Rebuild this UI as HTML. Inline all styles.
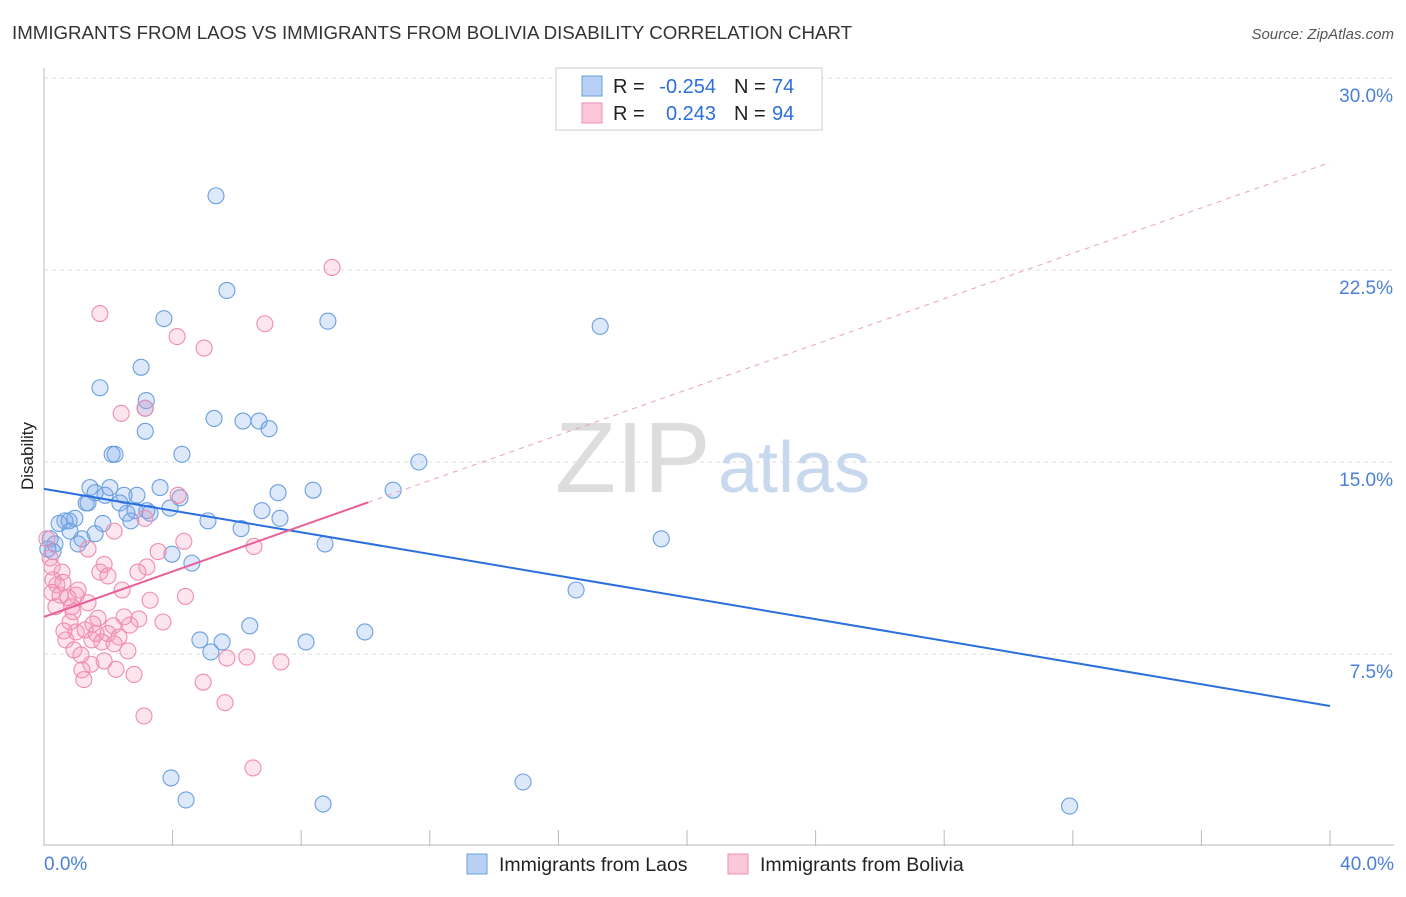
<!DOCTYPE html>
<html><head><meta charset="utf-8"><style>
body{margin:0;background:#fff;font-family:"Liberation Sans",sans-serif;}
svg text{font-family:"Liberation Sans",sans-serif;}
</style></head><body>
<svg id="chart" width="1406" height="892">
<text x="12" y="39" font-size="18.7" fill="#333">IMMIGRANTS FROM LAOS VS IMMIGRANTS FROM BOLIVIA DISABILITY CORRELATION CHART</text>
<text x="1394" y="39" font-size="15" fill="#555" font-style="italic" text-anchor="end">Source: ZipAtlas.com</text>
<text x="33" y="456" font-size="17" fill="#222" text-anchor="middle" transform="rotate(-90 33 456)">Disability</text>
<g id="grid"></g>
<text x="555" y="492" font-size="100" fill="#ddd" font-family="Liberation Serif">ZIP</text>
<text x="718" y="492" font-size="72" fill="#c8d8ee">atlas</text>
<g id="pts"></g>
<g id="lines"></g>
<g>
<rect x="556" y="68" width="266" height="62" fill="#fff" stroke="#ccc"/>
<rect x="582" y="76" width="20" height="20" fill="#b8d0f4" stroke="#6a9fe0"/>
<rect x="582" y="103" width="20" height="20" fill="#fbc8d8" stroke="#f08cb0"/>
<text x="613" y="93" font-size="20" fill="#222">R =</text>
<text x="716" y="93" font-size="20" fill="#2a6fdb" text-anchor="end">-0.254</text>
<text x="734" y="93" font-size="20" fill="#222">N =</text>
<text x="772" y="93" font-size="20" fill="#2a6fdb">74</text>
<text x="613" y="120" font-size="20" fill="#222">R =</text>
<text x="716" y="120" font-size="20" fill="#2a6fdb" text-anchor="end">0.243</text>
<text x="734" y="120" font-size="20" fill="#222">N =</text>
<text x="772" y="120" font-size="20" fill="#2a6fdb">94</text>
</g>
<g>
<rect x="467" y="854" width="20" height="20" fill="#b8d0f4" stroke="#6a9fe0"/>
<text x="499" y="871" font-size="19.5" fill="#222">Immigrants from Laos</text>
<rect x="728" y="854" width="20" height="20" fill="#fbc8d8" stroke="#f08cb0"/>
<text x="760" y="871" font-size="19.5" fill="#222">Immigrants from Bolivia</text>
</g>
<text x="44" y="870" font-size="19" fill="#4a80d8">0.0%</text>
<text x="1394" y="870" font-size="19" fill="#4a80d8" text-anchor="end">40.0%</text>
</svg>
<script>
const yTicks=[7.5,15,22.5,30];
const yTickLabels=["7.5%","15.0%","22.5%","30.0%"];
const xTicks=[0,4,8,12,16,20,24,28,32,36,40];
const laosX=[5.35,5.69,3.73,8.83,17.3,3.02,1.74,3.18,3.15,5.29,6.19,6.69,7.0,3.15,2.12,2.21,4.29,11.66,1.43,2.05,3.61,8.37,10.86,7.28,1.59,1.9,2.89,2.49,4.23,1.31,1.37,2.36,3.2,3.92,6.78,2.58,3.3,2.83,0.96,0.65,5.1,7.34,0.47,0.78,1.83,2.7,6.13,0.81,1.59,1.18,1.06,8.74,19.2,0.19,0.34,0.12,0.28,3.98,4.6,16.55,9.98,6.4,4.85,5.54,8.15,5.19,3.95,4.42,14.9,8.68,31.9];
const laosY=[25.4,21.7,20.6,20.5,20.3,18.7,17.9,17.4,17.1,16.7,16.6,16.6,16.3,16.2,15.3,15.3,15.3,15.0,14.0,14.0,14.0,13.9,13.9,13.8,13.8,13.7,13.7,13.7,13.6,13.4,13.4,13.4,13.1,13.2,13.1,13.0,13.0,13.1,12.8,12.7,12.7,12.8,12.6,12.7,12.6,12.7,12.4,12.3,12.2,12.0,11.8,11.8,12.0,12.0,11.8,11.6,11.5,11.4,11.05,10.0,8.36,8.6,8.05,7.97,7.97,7.58,2.66,1.8,2.5,1.64,1.56];
const bolX=[8.96,1.74,6.87,4.14,4.98,3.14,2.4,4.17,3.14,2.18,4.35,6.53,3.55,1.37,0.09,0.19,0.25,0.56,1.87,3.2,1.74,1.99,2.92,0.28,0.4,0.59,1.06,2.43,0.25,0.5,0.75,1.0,4.4,3.3,1.37,0.87,0.37,0.9,2.49,1.68,2.95,3.7,0.81,1.52,2.67,2.15,0.62,1.0,1.28,1.62,1.99,2.33,0.68,1.49,1.8,2.18,0.93,2.61,1.15,5.69,6.31,7.37,1.46,1.87,2.24,1.18,2.8,1.24,4.95,5.63,3.11,6.5];
const bolY=[22.6,20.8,20.4,19.9,19.45,17.1,16.9,13.7,12.8,12.3,11.9,11.7,11.5,11.6,12.0,11.25,10.9,10.7,11.0,10.9,10.7,10.55,10.7,10.4,10.2,10.3,10.0,10.0,9.9,9.8,9.7,9.8,9.75,9.6,9.5,9.35,9.35,9.15,8.95,8.9,8.87,8.75,8.75,8.67,8.63,8.6,8.4,8.36,8.44,8.3,8.3,8.16,8.05,8.05,7.97,7.9,7.66,7.62,7.46,7.34,7.38,7.19,7.1,7.23,6.9,6.88,6.7,6.5,6.4,5.6,5.08,3.05];
const laosTrend=[13.95,5.47];
const bolTrend=[8.95,26.7];
const bolSolidEnd=10.08;
const NS="http://www.w3.org/2000/svg";
const X0=44,X1=1330,Y0=846,YPX=25.6;
function sx(v){return X0+(v/40)*(X1-X0);}
function sy(v){return Y0-v*YPX;}
function mk(t,a,p){const e=document.createElementNS(NS,t);for(const k in a)e.setAttribute(k,a[k]);p.appendChild(e);return e;}
const grid=document.getElementById('grid');
yTicks.forEach((t,i)=>{
 const l=mk('line',{x1:X0,x2:1394,y1:sy(t),y2:sy(t),stroke:'#ddd','stroke-dasharray':'4,4'},grid);
 
 
 const tx=mk('text',{x:1393,y:sy(t)+24,'font-size':19,fill:'#4a80d8','text-anchor':'end'},grid);
 tx.textContent=yTickLabels[i];
 
 
});
const ax=mk('line',{x1:X0,x2:1394,y1:Y0-1,y2:Y0-1,stroke:'#bbb'},grid);


const ay=mk('line',{x1:X0,x2:X0,y1:68,y2:Y0,stroke:'#bbb'},grid);


xTicks.forEach(t=>{
 const l=mk('line',{x1:sx(t),x2:sx(t),y1:Y0-16,y2:Y0,stroke:'#bbb'},grid);
 
 
});
const pts=document.getElementById('pts');
laosX.forEach((x,i)=>{
 const c=mk('circle',{cx:sx(x),cy:sy(laosY[i]),r:8,fill:'rgba(120,165,235,0.25)',stroke:'#6a9fe0','stroke-width':1.1},pts);
 
 
});
bolX.forEach((x,i)=>{
 const c=mk('circle',{cx:sx(x),cy:sy(bolY[i]),r:8,fill:'rgba(245,150,185,0.25)',stroke:'#f08cb0','stroke-width':1.1},pts);
 
 
});
const lines=document.getElementById('lines');
const lt=mk('line',{x1:sx(0),y1:sy(laosTrend[0]),x2:sx(40),y2:sy(laosTrend[1]),stroke:'#2a6fdb','stroke-width':2},lines);


const bAt=x=>bolTrend[0]+(bolTrend[1]-bolTrend[0])*x/40;
const bd=mk('line',{x1:sx(bolSolidEnd),y1:sy(bAt(bolSolidEnd)),x2:sx(40),y2:sy(bolTrend[1]),stroke:'#eaa0bd','stroke-width':1,'stroke-dasharray':'5,5'},lines);


const bs=mk('line',{x1:sx(0),y1:sy(bolTrend[0]),x2:sx(bolSolidEnd),y2:sy(bAt(bolSolidEnd)),stroke:'#e8609a','stroke-width':2},lines);


</script>
</body></html>
